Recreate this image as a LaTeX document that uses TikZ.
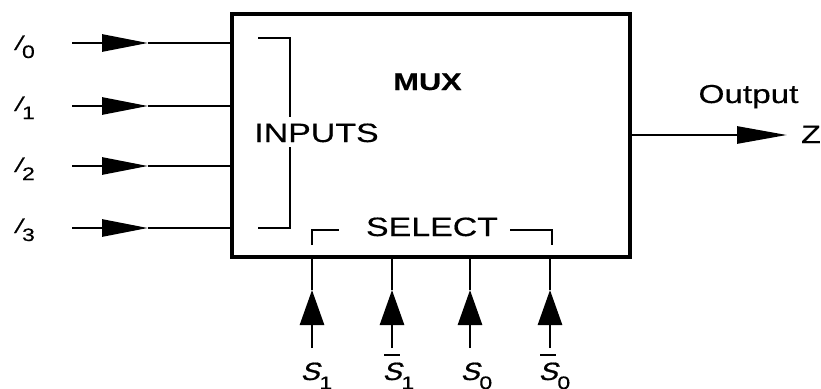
\documentclass[tikz,border=0pt]{standalone}
\usepackage{fontspec}
\setmainfont{Liberation Sans}[FakeStretch=1.28,FakeBold=0.4]
\newfontfamily\ilabfont{Liberation Sans}[FakeSlant=0.6,FakeBold=1]
\newfontfamily\slabfont{Liberation Sans}[FakeSlant=0.3,FakeStretch=1.15,FakeBold=0.6]
\usetikzlibrary{arrows.meta}
\newcommand{\Ilab}[1]{{\ilabfont\fontsize{21}{22}\selectfont I}\hspace{4pt}\raisebox{-8pt}{\fontsize{18}{18}\selectfont #1}}
\newcommand{\Slab}[1]{{\slabfont\fontsize{25}{26}\selectfont S}\raisebox{-9pt}{\fontsize{18}{18}\selectfont #1}}
\newcommand{\Sblab}[1]{\rlap{\hspace{2pt}\raisebox{24pt}{\rule{16pt}{2pt}}}\Slab{#1}}
\begin{document}
\begin{tikzpicture}[x=1pt,y=-1pt,
  wire/.style={line width=2.8pt},
  inarrow/.style={wire,-{Triangle[length=46pt,width=17pt]}},
  selarrow/.style={wire,-{Triangle[length=35pt,width=24pt]}},
  outarrow/.style={wire,-{Triangle[length=50pt,width=17pt]}},
  brack/.style={line width=2.6pt},
  lab/.style={inner sep=0pt,anchor=base west},
  txt/.style={inner sep=0pt,anchor=base,font=\fontsize{26.5}{30}\selectfont}]
\useasboundingbox (0,0) rectangle (821,388);
% box
\node[draw,line width=3.5pt,minimum width=398pt,minimum height=243pt,inner sep=0pt] (mux) at (431,135.5) {};
\node[txt,font=\bfseries\fontsize{24}{28}\selectfont] (muxt) at (427.5,90) {MUX};
\node[txt] (inputs) at (316.5,142) {INPUTS};
\node[txt] (select) at (432,236) {SELECT};
\node[txt,font=\fontsize{26}{30}\selectfont] (output) at (748.5,103) {Output};
\node[lab,font=\fontsize{25}{30}\selectfont] (z) at (801,143) {Z};
% input labels
\node[lab] (l0) at (12,50) {\Ilab{0}};
\node[lab] (l1) at (12,111) {\Ilab{1}};
\node[lab] (l2) at (12,172) {\Ilab{2}};
\node[lab] (l3) at (12,233) {\Ilab{3}};
% input wires
\foreach \i/\y in {0/43,1/106,2/166,3/228}{
  \coordinate (s\i) at (72,\y);
  \coordinate (t\i) at (148,\y);
  \draw[inarrow] (s\i) -- (t\i);
  \draw[wire] (t\i) -- (mux.west |- t\i);
}
% inputs bracket
\coordinate (ba) at (258,38);
\coordinate (bb) at (290,38);
\coordinate (bc) at (290,117);
\coordinate (bd) at (290,147);
\coordinate (be) at (290,228);
\coordinate (bf) at (258,228);
\draw[brack] (ba) -- (bb) -- (bc);
\draw[brack] (bd) -- (be) -- (bf);
% select bracket
\coordinate (sa) at (312,245);
\coordinate (sb) at (312,230);
\coordinate (sc) at (339,230);
\coordinate (sd) at (510,230);
\coordinate (se) at (552,230);
\coordinate (sf) at (552,245);
\draw[brack] (sa) -- (sb) -- (sc);
\draw[brack] (sd) -- (se) -- (sf);
% select labels
\node[lab] (sl1) at (300,380) {\Slab{1}};
\node[lab] (sl1b) at (382,380) {\Sblab{1}};
\node[lab] (sl0) at (460,380) {\Slab{0}};
\node[lab] (sl0b) at (538,380) {\Sblab{0}};
% select wires
\foreach \n/\x in {a/312,b/392,c/470,d/550}{
  \coordinate (p\n) at (\x,348);
  \coordinate (q\n) at (\x,290);
  \draw[selarrow] (p\n) -- (q\n);
  \draw[wire] (q\n) -- (mux.south -| q\n);
}
% output
\coordinate (ot) at (787,135);
\draw[outarrow] (mux.east |- ot) -- (ot);
\end{tikzpicture}
\end{document}
